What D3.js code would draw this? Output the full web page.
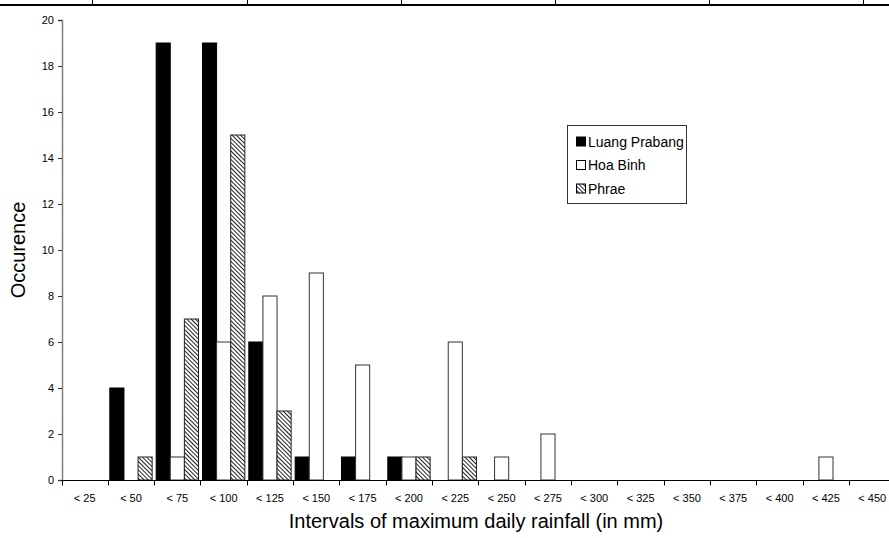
<!DOCTYPE html>
<html>
<head>
<meta charset="utf-8">
<script src="https://cdn.jsdelivr.net/npm/d3@7"></script>
<style>
  html, body { margin: 0; padding: 0; background: #fff; }
  svg { display: block; }
  text { font-family: Arial, "Liberation Sans", sans-serif; }
</style>
</head>
<body>
<script>
// ---- data ----
const categories = ["< 25","< 50","< 75","< 100","< 125","< 150","< 175","< 200","< 225","< 250","< 275","< 300","< 325","< 350","< 375","< 400","< 425","< 450"];
const seriesNames = ["Luang Prabang", "Hoa Binh", "Phrae"];
const luangPrabang = [0, 4, 19, 19, 6, 1, 1, 1, 0, 0, 0, 0, 0, 0, 0, 0, 0, 0];
const hoaBinh      = [0, 0, 1, 6, 8, 9, 5, 1, 6, 1, 2, 0, 0, 0, 0, 0, 1, 0];
const phrae        = [0, 1, 7, 15, 3, 0, 0, 1, 1, 0, 0, 0, 0, 0, 0, 0, 0, 0];
const yTicks = [0, 2, 4, 6, 8, 10, 12, 14, 16, 18, 20];
const xTitle = "Intervals of maximum daily rainfall (in mm)";
const yTitle = "Occurence";

const W = 889, H = 538;
const svg = d3.select("body").append("svg").attr("width", W).attr("height", H);

const defs = svg.append("defs");
const pat = defs.append("pattern")
  .attr("id", "hatch").attr("patternUnits", "userSpaceOnUse")
  .attr("width", 3).attr("height", 3)
  .attr("patternTransform", "rotate(45)");
pat.append("rect").attr("width", 3).attr("height", 3).attr("fill", "#fff");
pat.append("line").attr("x1", 0).attr("y1", 0).attr("x2", 3).attr("y2", 0)
  .attr("stroke", "#222").attr("stroke-width", 2);

// top table border (decoration)
svg.append("rect").attr("x", 0).attr("y", 4).attr("width", W).attr("height", 2).attr("fill", "#000");
d3.range(6).forEach(i => {
  const x = Math.round(92.4 + i * 154.2) + 0.5;
  svg.append("line").attr("x1", x).attr("x2", x).attr("y1", 0).attr("y2", 5)
    .attr("stroke", "#000").attr("stroke-width", 1);
});

const x0 = 61.5, y0 = 480, yTop = 20;
const band = 46.33;
const x = d3.scaleBand().domain(categories).range([x0, x0 + band * categories.length]).paddingInner(0).paddingOuter(0);
const y = d3.scaleLinear().domain([0, 20]).range([y0, yTop]);
const xs = d3.scaleBand().domain(seriesNames).range([0, x.bandwidth()]).paddingOuter(0.0833 * 1.7).paddingInner(0);

const seriesData = [luangPrabang, hoaBinh, phrae];
const fills = ["#000", "#fff", "url(#hatch)"];
const strokes = ["#000", "#333", "#222"];

const g = svg.append("g");
seriesNames.forEach((name, si) => {
  g.selectAll(null)
    .data(categories.map((c, i) => ({ c, v: seriesData[si][i] })).filter(d => d.v > 0))
    .enter().append("rect")
    .attr("x", d => x(d.c) + xs(name))
    .attr("y", d => y(d.v))
    .attr("width", xs.bandwidth())
    .attr("height", d => y0 - y(d.v))
    .attr("fill", fills[si])
    .attr("stroke", strokes[si])
    .attr("stroke-width", 1);
});

// y axis
const yAxis = svg.append("g").attr("transform", `translate(${x0 + 0.5},0)`)
  .call(d3.axisLeft(y).tickValues(yTicks).tickSize(4).tickPadding(4));
yAxis.select(".domain").attr("stroke", "#808080").attr("stroke-width", 1.5);
yAxis.selectAll(".tick line").attr("stroke", "#333");
yAxis.selectAll("text").attr("font-size", 11).attr("fill", "#000")
  .attr("font-family", "Arial, 'Liberation Sans', sans-serif");

// x axis
const xAxisG = svg.append("g").attr("transform", `translate(0,${y0 + 0.5})`);
xAxisG.append("line").attr("x1", x0).attr("x2", x0 + band * categories.length)
  .attr("stroke", "#000").attr("stroke-width", 1);
xAxisG.selectAll(".bt").data(categories).enter().append("line")
  .attr("x1", d => Math.round(x(d)) + 0.5).attr("x2", d => Math.round(x(d)) + 0.5)
  .attr("y1", 0).attr("y2", 5).attr("stroke", "#000");
xAxisG.selectAll(".lb").data(categories).enter().append("text")
  .attr("x", d => x(d) + x.bandwidth() / 2).attr("y", 21)
  .attr("text-anchor", "middle").attr("font-size", 11).text(d => d);

// titles
svg.append("text").attr("x", 476).attr("y", 528).attr("text-anchor", "middle")
  .attr("font-size", 20).text(xTitle);
svg.append("text").attr("transform", "translate(25,250) rotate(-90)")
  .attr("text-anchor", "middle").attr("font-size", 20).text(yTitle);

// legend
const lg = svg.append("g").attr("transform", "translate(567,125)");
lg.append("rect").attr("x", 0.5).attr("y", 0.5).attr("width", 119).attr("height", 78)
  .attr("fill", "#fff").attr("stroke", "#333").attr("stroke-width", 1);
seriesNames.forEach((name, i) => {
  const cy = 16.5 + i * 23.5;
  lg.append("rect").attr("x", 9.5).attr("y", cy - 4.5).attr("width", 9).attr("height", 9)
    .attr("fill", fills[i]).attr("stroke", "#000").attr("stroke-width", 1);
  lg.append("text").attr("x", 21).attr("y", cy + 5).attr("font-size", 14).text(name);
});
</script>
</body>
</html>
